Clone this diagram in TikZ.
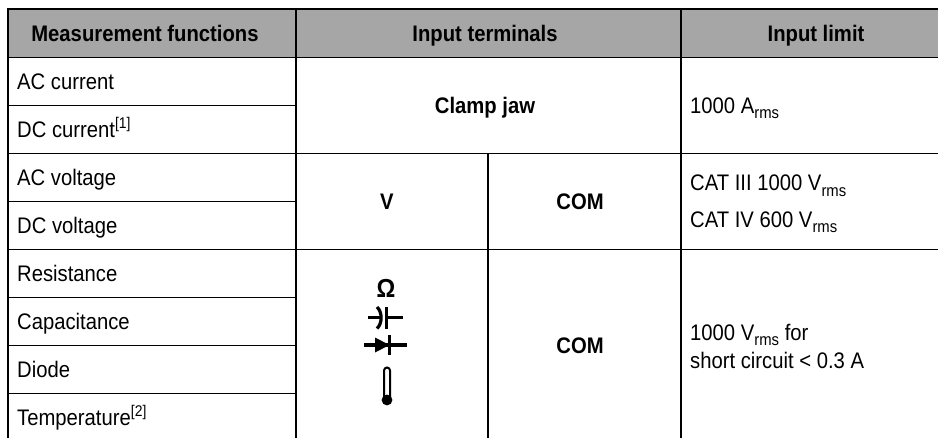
\documentclass[tikz,border=0pt]{standalone}
\usepackage{fontspec}
\setmainfont{Liberation Sans}[FakeStretch=0.9]
\newcommand\supx[1]{\raisebox{0.42em}{\fontsize{15.5}{15.5}\selectfont #1}}
\newcommand\subx[1]{\raisebox{-0.24em}{\fontsize{16.5}{16.5}\selectfont #1}}
\definecolor{headgray}{RGB}{166,166,166}
\tikzset{
  txt/.style={inner sep=0pt, anchor=base west, font=\fontsize{22.5}{27}\selectfont},
  ctxt/.style={inner sep=0pt, anchor=base, font=\fontsize{22.5}{27}\selectfont\bfseries},
  rule/.style={line width=1.6pt, line cap=rect},
  sym/.style={line width=3.2pt}
}
\begin{document}
\begin{tikzpicture}[x=1pt,y=-1pt]
\useasboundingbox (0,0) rectangle (938,437);
% header fill
\fill[headgray] (8,9) rectangle (938,57.3);
% horizontal rules
\draw[rule] (8,9) -- (938,9);
\draw[rule] (8,57.3) -- (938,57.3);
\draw[rule] (8,105.3) -- (296,105.3);
\draw[rule] (8,153.3) -- (938,153.3);
\draw[rule] (8,201.3) -- (296,201.3);
\draw[rule] (8,249.3) -- (938,249.3);
\draw[rule] (8,297.3) -- (296,297.3);
\draw[rule] (8,345.3) -- (296,345.3);
\draw[rule] (8,393.3) -- (296,393.3);
% vertical rules
\draw[rule] (8,9) -- (8,440);
\draw[rule] (296,9) -- (296,440);
\draw[rule] (680.7,9) -- (680.7,440);
\draw[rule] (488,153.3) -- (488,440);
% header
\node[ctxt] (h1) at (145,41.5) {Measurement functions};
\node[ctxt] (h2) at (485,41.5) {Input terminals};
\node[ctxt] (h3) at (816,41.5) {Input limit};
% column 1
\node[txt] (r1) at (17,89.5) {AC current};
\node[txt] (r2) at (17,137.5) {DC current\supx{[1]}};
\node[txt] (r3) at (17,185.5) {AC voltage};
\node[txt] (r4) at (17,233.5) {DC voltage};
\node[txt] (r5) at (17,281.5) {Resistance};
\node[txt] (r6) at (17,329.5) {Capacitance};
\node[txt] (r7) at (17,377.5) {Diode};
\node[txt] (r8) at (17,425.5) {Temperature\supx{[2]}};
% terminals
\node[ctxt] (clamp) at (485,113.5) {Clamp jaw};
\node[ctxt] (vt) at (387,209.5) {V};
\node[ctxt] (com1) at (580,209.5) {COM};
\node[ctxt] (com2) at (580,353.5) {COM};
% limits
\node[txt] (l1) at (690,113.3) {1000 A\subx{rms}};
\node[txt] (l2) at (690,190.7) {CAT III 1000 V\subx{rms}};
\node[txt] (l3) at (690,227.3) {CAT IV 600 V\subx{rms}};
\node[txt] (l4) at (690,340) {1000 V\subx{rms} for};
\node[txt] (l5) at (690,368.5) {short circuit < 0.3 A};
% symbols
\node[ctxt, font=\fontsize{26}{26}\selectfont\bfseries] (om) at (386,297) {Ω};
% capacitor
\draw[sym] (368,317.7) -- (379.5,317.7);
\draw[sym] (377,307) .. controls (382.5,312) and (382.5,323.5) .. (377,328.5);
\draw[sym] (386.5,307) -- (386.5,328.5);
\draw[sym] (386.5,317.7) -- (403,317.7);
% diode
\draw[sym] (364,345) -- (407,345);
\fill (375,337.5) -- (389.5,345) -- (375,352.5) -- cycle;
\draw[sym] (389.5,335) -- (389.5,355);
% thermometer
\draw[line width=2pt, fill=white] (384,398) -- (384,370.5) arc[start angle=180, end angle=360, radius=3] -- (390,398);
\fill (387,400) circle[radius=5.4];
\end{tikzpicture}
\end{document}
